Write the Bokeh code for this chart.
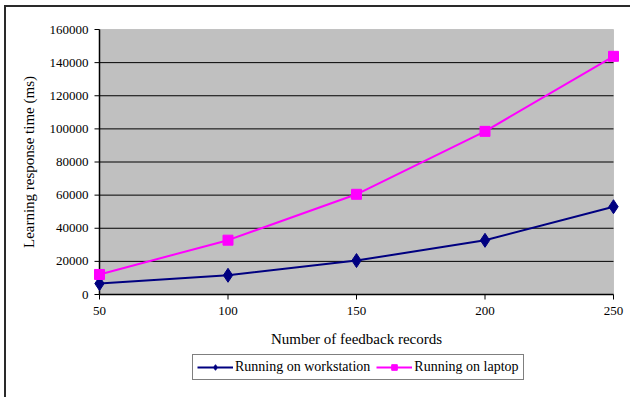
from bokeh.plotting import figure
from bokeh.layouts import column
from bokeh.models import Range1d, FixedTicker, Legend, LegendItem, NumeralTickFormatter, BoxAnnotation
from bokeh.embed import file_html
from bokeh.resources import INLINE

records = [50, 100, 150, 200, 250]
workstation = [6600, 11600, 20500, 32700, 53000]
laptop = [12100, 32800, 60500, 98500, 143800]
y_ticks = [0, 20000, 40000, 60000, 80000, 100000, 120000, 140000, 160000]
x_ticks = [50, 100, 150, 200, 250]
series_names = ["Running on workstation", "Running on laptop"]

FONT = "Times New Roman"
NAVY, MAGENTA = "#000080", "#FF00FF"
PAD = 8  # px of room around the plot area so edge markers are not cut
FW, FH = 514, 265
xlo, xhi = x_ticks[0], x_ticks[-1]
ylo, yhi = y_ticks[0], y_ticks[-1]
xpx = (xhi - xlo) / FW   # data units per pixel
ypx = (yhi - ylo) / FH
TICK = 5

p = figure(frame_width=FW + 2 * PAD, frame_height=FH + 2 * PAD, output_backend="svg",
           toolbar_location=None,
           x_range=Range1d(xlo - PAD * xpx, xhi + PAD * xpx),
           y_range=Range1d(ylo - PAD * ypx, yhi + PAD * ypx),
           min_border_left=93 - PAD, min_border_right=17 - PAD, min_border_top=22 - PAD,
           min_border_bottom=52,
           background_fill_color="white", border_fill_color="white")
p.outline_line_color = None

p.add_layout(BoxAnnotation(left=xlo, right=xhi, bottom=ylo, top=yhi,
                           fill_color="#C0C0C0", fill_alpha=1,
                           line_color="#808080", line_width=1, level="underlay"))

p.xaxis.ticker = FixedTicker(ticks=x_ticks)
p.yaxis.ticker = FixedTicker(ticks=y_ticks)
p.yaxis.formatter = NumeralTickFormatter(format="0")
for ax in (p.xaxis, p.yaxis):
    ax.axis_line_color = None
    ax.major_tick_line_color = None
    ax.major_tick_out = 0
    ax.major_tick_in = 0
    ax.minor_tick_line_color = None
    ax.major_label_text_font = FONT
    ax.major_label_text_font_size = "13px"
    ax.major_label_text_color = "black"
    ax.axis_label_text_font = FONT
    ax.axis_label_text_font_size = "15px"
    ax.axis_label_text_font_style = "normal"
    ax.axis_label_text_color = "black"
p.xaxis.major_label_standoff = 4
p.xaxis.axis_label = "Number of feedback records"
p.xaxis.axis_label_standoff = 13
p.yaxis.axis_label = "Learning response time (ms)"
p.yaxis.axis_label_standoff = 10
p.yaxis.major_label_standoff = 3

p.xgrid.grid_line_color = None
p.ygrid.grid_line_color = None

# horizontal gridlines at the inner y ticks
p.segment(x0=[xlo] * (len(y_ticks) - 2), x1=[xhi] * (len(y_ticks) - 2),
          y0=y_ticks[1:-1], y1=y_ticks[1:-1], line_color="black", line_width=1)
# axis lines and outward tick marks on the plot-area edges
p.segment(x0=[xlo, xlo], y0=[ylo, ylo], x1=[xlo, xhi], y1=[yhi, ylo],
          line_color="black", line_width=1.5)
p.segment(x0=[xlo - TICK * xpx] * len(y_ticks), x1=[xlo] * len(y_ticks),
          y0=y_ticks, y1=y_ticks, line_color="black", line_width=1)
p.segment(x0=x_ticks, x1=x_ticks, y0=[ylo - TICK * ypx] * len(x_ticks),
          y1=[ylo] * len(x_ticks), line_color="black", line_width=1)

p.line(records, workstation, line_color=NAVY, line_width=2)
p.scatter(records, workstation, marker="diamond", size=14, fill_color=NAVY, line_color=NAVY)
p.line(records, laptop, line_color=MAGENTA, line_width=2)
p.scatter(records, laptop, marker="square", size=10, fill_color=MAGENTA, line_color=MAGENTA)

# legend strip below the chart (its renderers lie outside its visible range)
LH = 45
q = figure(width=FW + 93 + 17, height=LH, output_backend="svg", toolbar_location=None,
           x_axis_location=None, y_axis_location=None,
           x_range=Range1d(1000, 1001), y_range=Range1d(-1000, -999),
           min_border=0, min_border_left=0, min_border_right=0, min_border_top=0,
           min_border_bottom=0, background_fill_color="white", border_fill_color="white")
q.outline_line_color = None
q.xgrid.grid_line_color = None
q.ygrid.grid_line_color = None
ql1 = q.line(records, workstation, line_color=NAVY, line_width=2)
qs1 = q.scatter(records, workstation, marker="diamond", size=14, fill_color=NAVY, line_color=NAVY)
ql2 = q.line(records, laptop, line_color=MAGENTA, line_width=2)
qs2 = q.scatter(records, laptop, marker="square", size=10, fill_color=MAGENTA, line_color=MAGENTA)

legend = Legend(items=[LegendItem(label=series_names[0], renderers=[ql1, qs1]),
                       LegendItem(label=series_names[1], renderers=[ql2, qs2])],
                orientation="horizontal", location=(101, LH - 26),
                label_text_font=FONT, label_text_font_size="14px", label_text_color="black",
                border_line_color="black", border_line_width=1, background_fill_alpha=1,
                padding=4, spacing=6, glyph_width=36, glyph_height=14, label_standoff=2,
                margin=0, label_height=14)
q.add_layout(legend, "center")

layout = column(p, q, spacing=0)
layout.styles = {"margin-left": "4px", "margin-top": "5px",
                 "border-left": "2px solid #2a2a2a", "border-top": "2px solid #2a2a2a"}

open("out.html", "w").write(file_html(layout, INLINE))
